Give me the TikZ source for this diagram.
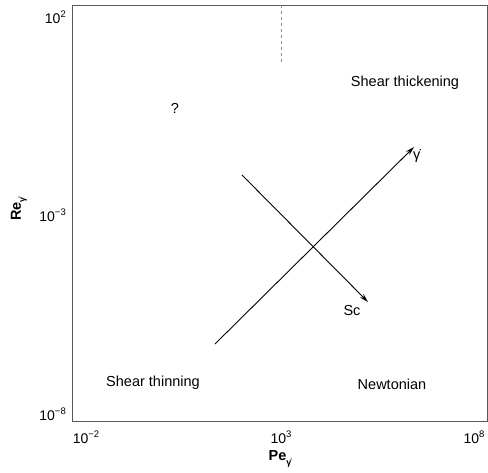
\documentclass[tikz,border=0pt]{standalone}
\usepackage{fontspec}
\setmainfont{Liberation Sans}
\usetikzlibrary{arrows.meta}
\newcommand\gdotx{γ̇}
\newcommand\supx[1]{\raisebox{0.45em}{\fontsize{9.5}{10}\selectfont #1}}
\newcommand\subx[1]{\raisebox{-0.3em}{\fontsize{9}{10}\selectfont #1}}
\begin{document}
\begin{tikzpicture}[x=1pt,y=-1pt,
  regionlabel/.style={font=\fontsize{14.5}{16}\selectfont, inner sep=0pt},
  ticklabel/.style={font=\fontsize{14}{16}\selectfont, inner sep=0pt},
  axislabel/.style={font=\fontsize{14.5}{16}\selectfont\bfseries, inner sep=0pt},
  trend/.style={line width=0.9pt, -{Stealth[length=9pt,width=5pt]}},
  frameline/.style={draw=black!65, line width=0.8pt}]
\useasboundingbox (0,0) rectangle (488,473);
\fill[white] (0,0) rectangle (488,473);
% frame
\draw[frameline] (72.5,5.5) rectangle (487,421.5);
\draw[black!45, dashed, line width=0.8pt] (281,5.5) -- (281,65);
% tick labels
\node[ticklabel, anchor=east] (y2) at (66,17) {10\supx{2}};
\node[ticklabel, anchor=east] (y3) at (66,215) {10\supx{−3}};
\node[ticklabel, anchor=east] (y8) at (66,414) {10\supx{−8}};
\node[ticklabel] (x2) at (86,437) {10\supx{−2}};
\node[ticklabel] (x3) at (281,437) {10\supx{3}};
\node[ticklabel] (x8) at (474,437) {10\supx{8}};
% axis labels
\node[axislabel, rotate=90] (ylab) at (19,209) {Re\subx{\gdotx}};
\node[axislabel] (xlab) at (280,459) {Pe\subx{\gdotx}};
% region labels
\node[regionlabel] (thick) at (405,83) {Shear thickening};
\node[regionlabel] (thin) at (153,383) {Shear thinning};
\node[regionlabel] (newt) at (392,384) {Newtonian};
\node[regionlabel] (q) at (175,108) {?};
% arrows
\coordinate (g0) at (215,344);
\coordinate (g1) at (414,147);
\coordinate (s0) at (242,175);
\coordinate (s1) at (368,302);
\draw[trend] (g0) -- (g1);
\draw[trend] (s0) -- (s1);
\node[regionlabel, anchor=west] (glab) at (413,156) {\gdotx};
\node[regionlabel] (sclab) at (352,311) {Sc};
\end{tikzpicture}
\end{document}
